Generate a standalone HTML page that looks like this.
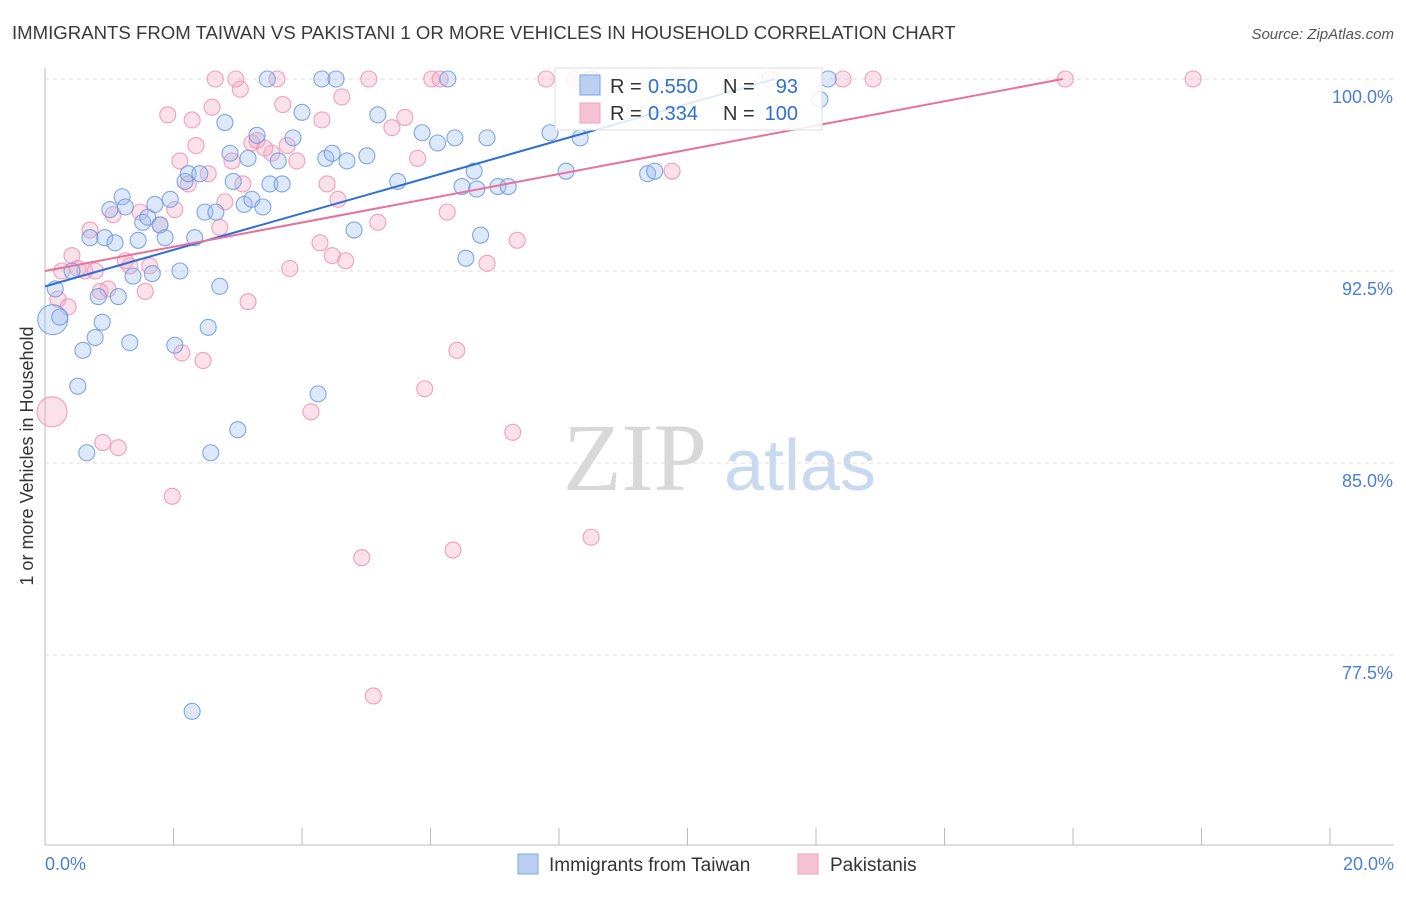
<!DOCTYPE html>
<html><head><meta charset="utf-8">
<style>
body{margin:0;background:#fff;font-family:"Liberation Sans",sans-serif;}
svg text{font-family:"Liberation Sans",sans-serif;}
</style></head>
<body>
<svg id="chart" width="1406" height="892" xmlns="http://www.w3.org/2000/svg">
<text x="12" y="39" font-size="18.6" fill="#3a3a3a">IMMIGRANTS FROM TAIWAN VS PAKISTANI 1 OR MORE VEHICLES IN HOUSEHOLD CORRELATION CHART</text>
<text x="1394" y="39" font-size="15" fill="#555" text-anchor="end" font-style="italic">Source: ZipAtlas.com</text>
<text x="0" y="0" transform="translate(33,456) rotate(-90)" font-size="18" fill="#333" text-anchor="middle">1 or more Vehicles in Household</text>
<g>
<text x="635" y="490" font-size="96" fill="#d8d8d8" text-anchor="middle" style="font-family:'Liberation Serif',serif">ZIP</text>
<text x="800" y="490" font-size="72" fill="#c9d9f0" text-anchor="middle">atlas</text>
</g>
<g id="grid"></g>
<g id="axes"></g>
<g id="marks"></g>
<g id="lines"></g>
<g>
<rect x="555" y="68" width="267" height="62" fill="#fff" fill-opacity="0.85" stroke="#ddd"/>
<rect x="580" y="75" width="20" height="20" fill="#b9d0f3" stroke="#7aa3e0"/>
<text x="610" y="93" font-size="20" fill="#333">R =</text>
<text x="648" y="93" font-size="20" fill="#2c6fd6">0.550</text>
<text x="723" y="93" font-size="20" fill="#333">N =</text>
<text x="798" y="93" font-size="20" fill="#2c6fd6" text-anchor="end">93</text>
<rect x="580" y="103" width="20" height="20" fill="#f6c3d4" stroke="#f0a0bc"/>
<text x="610" y="120" font-size="20" fill="#333">R =</text>
<text x="648" y="120" font-size="20" fill="#2c6fd6">0.334</text>
<text x="723" y="120" font-size="20" fill="#333">N =</text>
<text x="798" y="120" font-size="20" fill="#2c6fd6" text-anchor="end">100</text>
</g>
<g>
<rect x="518" y="854" width="20" height="20" fill="#b9d0f3" stroke="#7aa3e0"/>
<text x="549" y="871" font-size="19" fill="#333">Immigrants from Taiwan</text>
<rect x="798" y="854" width="20" height="20" fill="#f6c3d4" stroke="#f0a0bc"/>
<text x="830" y="871" font-size="19" fill="#333">Pakistanis</text>
</g>
</svg>
<script>
const yTicks=[100,92.5,85,77.5];
const yTickLabels=["100.0%","92.5%","85.0%","77.5%"];
const xTickLabels=["0.0%","20.0%"];
const blueX=[0.12,0.16,0.23,0.42,0.51,0.59,0.65,0.70,0.78,0.83,0.89,0.93,1.01,1.09,1.14,1.20,1.25,1.32,1.37,1.45,1.52,1.60,1.67,1.71,1.79,1.87,1.95,2.02,2.10,2.18,2.23,2.29,2.33,2.41,2.49,2.54,2.58,2.66,2.72,2.80,2.88,2.93,3.00,3.10,3.16,3.22,3.30,3.39,3.46,3.50,3.63,3.69,3.86,4.00,4.25,4.31,4.37,4.47,4.53,4.70,4.81,5.01,5.18,5.49,5.87,6.11,6.27,6.38,6.49,6.55,6.68,6.72,6.78,6.88,7.05,7.21,7.86,8.11,8.33,9.38,9.49,12.06,12.19,8.51];
const blueY=[90.6,91.8,90.7,92.5,88.0,89.4,85.4,93.8,89.9,91.5,90.5,93.8,94.9,93.6,91.5,95.4,95.0,89.7,92.3,93.7,94.4,94.6,92.4,95.1,94.3,93.8,95.3,89.6,92.5,96.0,96.3,75.3,93.8,96.3,94.8,90.3,85.4,94.8,91.9,98.3,97.1,96.0,86.3,95.1,96.9,95.3,97.8,95.0,100,95.9,96.8,95.9,97.7,98.7,87.7,100,96.9,97.1,100,96.8,94.1,97.0,98.6,96.0,97.9,97.5,100,97.7,95.8,93.0,96.4,95.7,93.9,97.7,95.8,95.8,97.9,96.4,97.7,96.3,96.4,99.2,100,100];
const pinkX=[0.11,0.2,0.26,0.36,0.42,0.51,0.62,0.70,0.78,0.86,0.90,0.98,1.06,1.14,1.25,1.32,1.48,1.56,1.63,1.79,1.91,1.98,2.02,2.10,2.13,2.23,2.29,2.35,2.46,2.54,2.60,2.65,2.72,2.80,2.91,2.97,3.04,3.08,3.16,3.22,3.30,3.42,3.53,3.61,3.70,3.77,3.81,3.92,4.14,4.28,4.31,4.39,4.47,4.56,4.62,4.68,4.93,5.04,5.11,5.18,5.40,5.60,5.80,5.91,6.02,6.15,6.26,6.35,6.41,6.88,7.28,7.35,7.80,8.25,8.50,9.76,11.28,12.42,12.89,15.88,17.87];
const pinkY=[87.0,91.4,92.5,91.1,93.1,92.6,92.5,94.1,92.5,91.7,85.8,91.8,94.7,85.6,92.9,92.7,94.8,91.7,92.7,94.3,98.6,83.7,94.9,96.8,89.3,95.9,98.4,97.4,89.0,96.3,98.9,100,94.2,95.2,96.8,100,99.6,95.9,91.3,97.5,97.6,97.3,97.1,100,99.0,97.4,92.6,96.8,87.0,93.6,98.4,95.9,93.1,95.3,99.3,92.9,81.3,100,75.9,94.4,98.1,98.5,96.9,87.9,100,100,94.8,81.6,89.4,92.8,86.2,93.7,100,100,82.1,96.4,100,100,100,100,100];
const blueTrend=[0,91.9,11.36,100];
const pinkTrend=[0,92.5,15.84,100];
const NS="http://www.w3.org/2000/svg";
const sx=v=>45+v*64.25;
const sy=v=>79+(100-v)*25.6;
function mk(tag,attrs,parent){const e=document.createElementNS(NS,tag);for(const k in attrs)e.setAttribute(k,attrs[k]);parent.appendChild(e);return e;}
const grid=document.getElementById('grid'),axes=document.getElementById('axes'),marks=document.getElementById('marks'),lines=document.getElementById('lines');
yTicks.forEach((t,i)=>{
 const l=mk('line',{x1:45,x2:1394,y1:sy(t),y2:sy(t),stroke:'#ddd','stroke-dasharray':'4,4'},grid);
 
 
 const tx=mk('text',{x:1393,y:sy(t)+24,'font-size':18,fill:'#4a7fd6','text-anchor':'end'},axes);
 tx.textContent=yTickLabels[i];
 
 
});
const ax=mk('line',{x1:45,x2:45,y1:68,y2:845,stroke:'#bbb'},axes);


const bx=mk('line',{x1:45,x2:1394,y1:845,y2:845,stroke:'#bbb'},axes);


for(let i=0;i<=10;i++){
 const t=mk('line',{x1:sx(i*2),x2:sx(i*2),y1:828,y2:845,stroke:'#bbb'},axes);
 
 
}
[[0,'start',45],[20,'end',1394]].forEach((d,i)=>{
 const tx=mk('text',{x:d[2],y:870,'font-size':18,fill:'#4a7fd6','text-anchor':d[1]},axes);
 tx.textContent=xTickLabels[i];
 
 
});
function pts(X,Y,fill,stroke,name){
 X.forEach((x,i)=>{
  const r=i===0?15:8;
  const c=mk('circle',{cx:sx(x),cy:sy(Y[i]),r:r,fill:fill,'fill-opacity':0.35,stroke:stroke,'stroke-width':1.1,'stroke-opacity':0.85},marks);
  
  
 });
}
pts(pinkX,pinkY,'#f4a9c2','#f08fb2','pakistani-point');
pts(blueX,blueY,'#9dbdee','#6b98df','taiwan-point');
const bl=mk('line',{x1:sx(blueTrend[0]),y1:sy(blueTrend[1]),x2:sx(blueTrend[2]),y2:sy(blueTrend[3]),stroke:'#2c6fd6','stroke-width':2},lines);


const pl=mk('line',{x1:sx(pinkTrend[0]),y1:sy(pinkTrend[1]),x2:sx(pinkTrend[2]),y2:sy(pinkTrend[3]),stroke:'#e8709a','stroke-width':2},lines);


</script>
</body></html>
